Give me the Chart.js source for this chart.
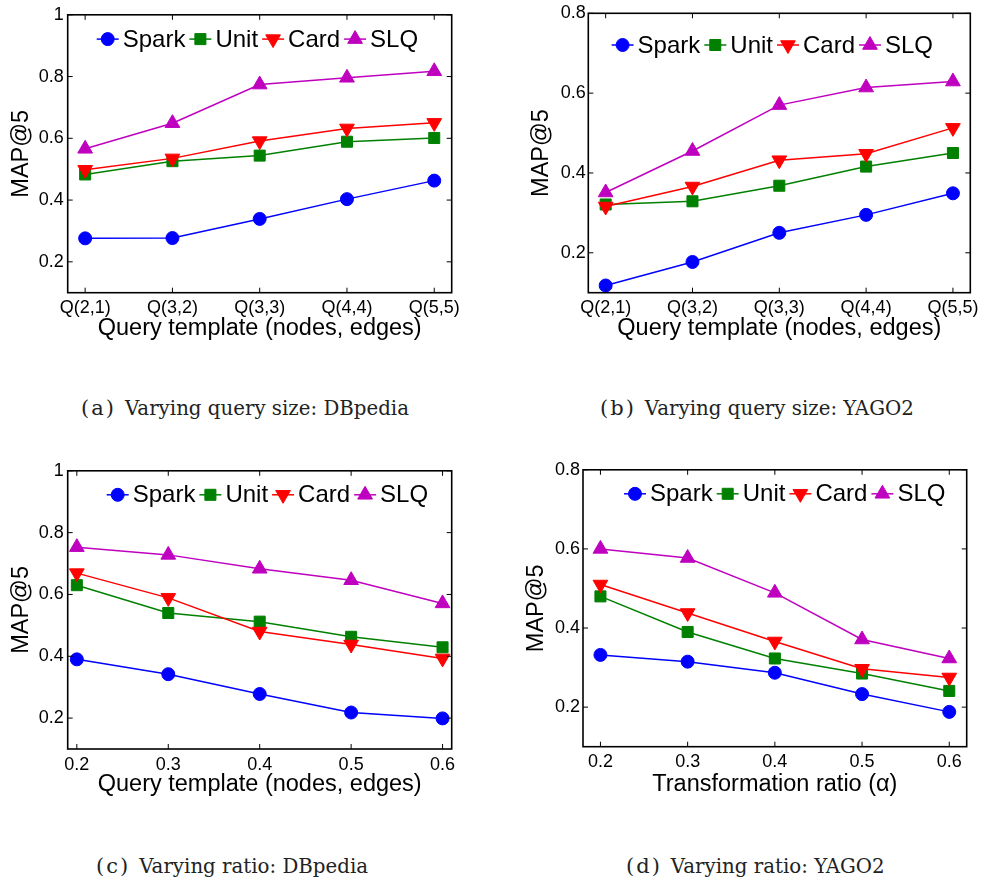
<!DOCTYPE html>
<html>
<head>
<meta charset="utf-8">
<script src="https://cdn.jsdelivr.net/npm/chart.js@4.4.1/dist/chart.umd.min.js"></script>
<style>
  html, body { margin: 0; padding: 0; background: #fff; }
  #page { position: relative; width: 984px; height: 883px; overflow: hidden; }
  canvas { position: absolute; }
  .cap { position: absolute; white-space: nowrap; font-family: "DejaVu Serif", "Liberation Serif", serif; font-size: 19.8px; color: #222; line-height: 24px; }
  .cap b { font-weight: normal; font-size: 21px; letter-spacing: 2px; margin-right: 9px; }
</style>
</head>
<body>
<div id="page">
  <canvas id="chartA" style="left:0px;top:0px"></canvas>
  <canvas id="chartB" style="left:520px;top:0px"></canvas>
  <canvas id="chartC" style="left:0px;top:456px"></canvas>
  <canvas id="chartD" style="left:515px;top:456px"></canvas>
  <div class="cap" style="left:81px;top:396px"><b>(a)</b>Varying query size: DBpedia</div>
  <div class="cap" style="left:600px;top:396px"><b>(b)</b>Varying query size: YAGO2</div>
  <div class="cap" style="left:96px;top:854px"><b>(c)</b>Varying ratio: DBpedia</div>
  <div class="cap" style="left:626px;top:854px"><b>(d)</b>Varying ratio: YAGO2</div>
</div>
<script>
// categories / x values
const queryLabels = ["Q(2,1)", "Q(3,2)", "Q(3,3)", "Q(4,4)", "Q(5,5)"];
const queryIdx = [0, 1, 2, 3, 4];
const ratios = [0.2, 0.3, 0.4, 0.5, 0.6];
const seriesNames = ["Spark", "Unit", "Card", "SLQ"];

// (a) query size, DBpedia
const sparkA = [0.276, 0.277, 0.339, 0.403, 0.463];
const unitA  = [0.483, 0.526, 0.544, 0.589, 0.601];
const cardA  = [0.498, 0.535, 0.591, 0.632, 0.650];
const slqA   = [0.566, 0.649, 0.774, 0.796, 0.817];

// (b) query size, YAGO2
const sparkB = [0.118, 0.177, 0.250, 0.295, 0.349];
const unitB  = [0.321, 0.329, 0.368, 0.416, 0.450];
const cardB  = [0.316, 0.366, 0.432, 0.448, 0.513];
const slqB   = [0.351, 0.455, 0.570, 0.614, 0.629];

// (c) ratio, DBpedia
const sparkC = [0.390, 0.342, 0.278, 0.218, 0.199];
const unitC  = [0.630, 0.540, 0.512, 0.463, 0.429];
const cardC  = [0.669, 0.589, 0.480, 0.438, 0.393];
const slqC   = [0.753, 0.728, 0.683, 0.646, 0.571];

// (d) ratio, YAGO2
const sparkD = [0.332, 0.315, 0.287, 0.233, 0.188];
const unitD  = [0.480, 0.390, 0.323, 0.285, 0.241];
const cardD  = [0.510, 0.438, 0.366, 0.297, 0.275];
const slqD   = [0.600, 0.577, 0.489, 0.371, 0.323];

// tick labels
const yTicksDB = [0.2, 0.4, 0.6, 0.8, 1];
const yTicksYG = [0.2, 0.4, 0.6, 0.8];

const colors = ["#0000ff", "#008000", "#ff0000", "#bf00bf"];
const markers = ["circle", "rect", "triangle", "triangle"];
const rotations = [0, 0, 180, 0];
const radii = [6.5, 7.8, 8.5, 8.5];

Chart.defaults.font.family = '"Liberation Sans", Arial, Helvetica, sans-serif';
Chart.defaults.color = "#000";

function drawMarker(ctx, style, rot, r, x, y) {
  if (Chart.helpers && Chart.helpers.drawPoint) {
    Chart.helpers.drawPoint(ctx, { pointStyle: style, rotation: rot, radius: r, borderWidth: 1 }, x, y);
    return;
  }
  ctx.beginPath();
  ctx.arc(x, y, r, 0, Math.PI * 2);
  ctx.fill();
}

// MATLAB-like box, inward ticks and legend
const framePlugin = {
  id: "matlabFrame",
  afterDraw(chart, args, opts) {
    const ctx = chart.ctx;
    const { left, top, right, bottom } = chart.chartArea;
    const xs = chart.scales.x, ys = chart.scales.y;
    ctx.save();
    ctx.strokeStyle = "#000";
    ctx.lineWidth = 1;
    ctx.beginPath();
    xs.ticks.forEach(t => {
      const px = xs.getPixelForValue(t.value);
      ctx.moveTo(px, bottom); ctx.lineTo(px, bottom - 5);
      ctx.moveTo(px, top); ctx.lineTo(px, top + 5);
    });
    ys.ticks.forEach(t => {
      const py = ys.getPixelForValue(t.value);
      ctx.moveTo(left, py); ctx.lineTo(left + 5, py);
      ctx.moveTo(right, py); ctx.lineTo(right - 5, py);
    });
    ctx.stroke();
    ctx.lineWidth = 1.6;
    ctx.strokeRect(left, top, right - left, bottom - top);

    // legend
    let x = left + opts.legendX;
    const y = top + opts.legendY;
    ctx.font = '24px "Liberation Sans", Arial, sans-serif';
    ctx.textBaseline = "middle";
    ctx.textAlign = "left";
    chart.data.datasets.forEach(ds => {
      ctx.strokeStyle = ds.borderColor;
      ctx.fillStyle = ds.backgroundColor;
      ctx.lineWidth = 1.5;
      ctx.beginPath();
      ctx.moveTo(x, y); ctx.lineTo(x + 22, y);
      ctx.stroke();
      ctx.lineWidth = 1;
      drawMarker(ctx, ds.pointStyle, ds.pointRotation, ds.pointRadius, x + 11, y);
      ctx.fillStyle = "#000";
      ctx.fillText(ds.label, x + 26, y + 1);
      x += 26 + ctx.measureText(ds.label).width + 4;
    });
    ctx.restore();
  }
};

function buildChart(id, cfg) {
  const canvas = document.getElementById(id);
  canvas.width = cfg.W;
  canvas.height = cfg.H;
  canvas.style.width = cfg.W + "px";
  canvas.style.height = cfg.H + "px";
  const a = cfg.area;
  return new Chart(canvas, {
    type: "line",
    data: {
      datasets: cfg.series.map((vals, i) => ({
        label: seriesNames[i],
        data: vals.map((v, j) => ({ x: cfg.xValues[j], y: v })),
        borderColor: colors[i],
        backgroundColor: colors[i],
        pointStyle: markers[i],
        pointRotation: rotations[i],
        pointRadius: radii[i],
        pointBorderWidth: 1,
        borderWidth: 1.5,
        tension: 0,
        clip: false,
        order: 4 - i
      }))
    },
    options: {
      responsive: false,
      animation: false,
      events: [],
      layout: { padding: { left: 0, top: a.top, right: cfg.W - a.right, bottom: 0 } },
      plugins: {
        legend: { display: false },
        tooltip: { enabled: false },
        matlabFrame: { legendX: cfg.legendX, legendY: cfg.legendY }
      },
      scales: {
        x: {
          type: "linear",
          min: cfg.xMin,
          max: cfg.xMax,
          bounds: "data",
          afterBuildTicks: s => { s.ticks = cfg.xValues.map(v => ({ value: v })); },
          afterFit: s => { s.height = cfg.H - a.bottom; },
          grid: { display: false, drawTicks: false },
          border: { display: false },
          ticks: {
            autoSkip: false,
            maxRotation: 0,
            padding: 5,
            color: "#000",
            font: { size: 18 },
            callback: (v, i) => cfg.xLabels ? cfg.xLabels[i] : String(v)
          },
          title: {
            display: true,
            text: cfg.xTitle,
            color: "#000",
            font: { size: 23.5 },
            padding: { top: 0, bottom: 1 }
          }
        },
        y: {
          min: 0.1,
          max: cfg.yMax,
          bounds: "data",
          afterBuildTicks: s => { s.ticks = cfg.yTicks.map(v => ({ value: v })); },
          afterFit: s => { s.width = a.left; },
          grid: { display: false, drawTicks: false },
          border: { display: false },
          ticks: {
            padding: cfg.yPad,
            color: "#000",
            font: { size: 18 },
            callback: v => String(v)
          },
          title: {
            display: true,
            text: "MAP@5",
            color: "#000",
            font: { size: 23.5 },
            padding: { top: 7.6, bottom: 0 }
          }
        }
      }
    },
    plugins: [framePlugin]
  });
}

buildChart("chartA", {
  W: 470, H: 344,
  area: { left: 67.7, top: 10.7, right: 451.7, bottom: 292.7 },
  xValues: queryIdx, xLabels: queryLabels, xMin: -0.2, xMax: 4.2,
  yMax: 1, yTicks: yTicksDB, yPad: 4,
  xTitle: "Query template (nodes, edges)",
  series: [sparkA, unitA, cardA, slqA],
  legendX: 29, legendY: 24.3
});

buildChart("chartB", {
  W: 464, H: 344,
  area: { left: 68.3, top: 11, right: 451.7, bottom: 292.7 },
  xValues: queryIdx, xLabels: queryLabels, xMin: -0.2, xMax: 4.2,
  yMax: 0.8, yTicks: yTicksYG, yPad: 2.5,
  xTitle: "Query template (nodes, edges)",
  series: [sparkB, unitB, cardB, slqB],
  legendX: 23.3, legendY: 31.7
});

buildChart("chartC", {
  W: 470, H: 344,
  area: { left: 67.7, top: 10.7, right: 451.7, bottom: 293 },
  xValues: ratios, xLabels: null, xMin: 0.19, xMax: 0.61,
  yMax: 1, yTicks: yTicksDB, yPad: 4,
  xTitle: "Query template (nodes, edges)",
  series: [sparkC, unitC, cardC, slqC],
  legendX: 39, legendY: 24
});

buildChart("chartD", {
  W: 469, H: 344,
  area: { left: 68, top: 10.7, right: 451.7, bottom: 290.7 },
  xValues: ratios, xLabels: null, xMin: 0.18, xMax: 0.62,
  yMax: 0.8, yTicks: yTicksYG, yPad: 3,
  xTitle: "Transformation ratio (\u03b1)",
  series: [sparkD, unitD, cardD, slqD],
  legendX: 41, legendY: 24
});
</script>
</body>
</html>
